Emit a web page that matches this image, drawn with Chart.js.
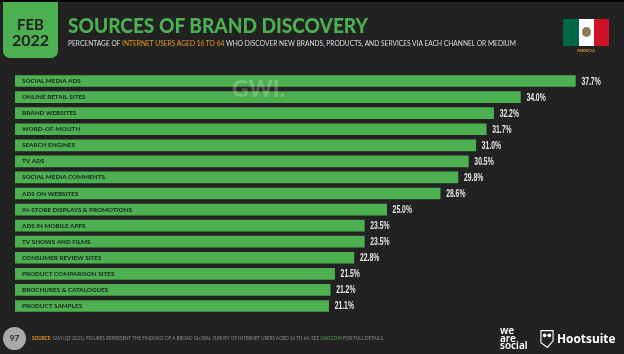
<!DOCTYPE html>
<html><head><meta charset="utf-8">
<script src="https://cdn.jsdelivr.net/npm/chart.js@4"></script>
<style>
html,body{margin:0;padding:0;background:#222223;width:624px;height:354px;overflow:hidden}
#wrap{position:relative;width:624px;height:354px;font-family:Lato,sans-serif}
#wrap div{position:absolute;white-space:nowrap}
canvas{position:absolute;left:0;top:0}
</style></head><body>
<div id="wrap">
<canvas id="c" width="624" height="354"></canvas>
<div style="left:0;top:0;width:624px;height:2px;background:#050505"></div>
<div style="left:3px;top:2px;width:55px;height:56px;background:#4caf50;border-radius:0 0 7px 7px"></div>
<div style="left:3px;top:16px;width:55px;text-align:center;font:700 15px/16px Lato;color:#222">FEB</div>
<div style="left:3px;top:31px;width:55px;text-align:center;font:700 16px/17px Lato;color:#222">2022</div>
<div style="left:68px;top:12px;font:900 21.5px/26px Lato;color:#4caf50;transform:scaleX(.887);transform-origin:left center">SOURCES OF BRAND DISCOVERY</div>
<div style="left:68px;top:38px;font:400 6.65px/10px Lato;color:#ddd">PERCENTAGE OF <span style="color:#e89a1c">INTERNET USERS AGED 16 TO 64</span> WHO DISCOVER NEW BRANDS, PRODUCTS, AND SERVICES VIA EACH CHANNEL OR MEDIUM</div>
<div style="left:563px;top:19px;width:16px;height:27px;background:#006847"></div>
<div style="left:579px;top:19px;width:15px;height:27px;background:#fff"></div>
<div style="left:594px;top:19px;width:15px;height:27px;background:#ce1126"></div>
<div style="left:582px;top:27px;width:9px;height:10px;border-radius:50%;background:#8d7a52"></div>
<div style="left:563px;top:48px;width:46px;text-align:center;font:700 4.5px/6px Lato;color:#e89a1c">MEXICO</div>
<div style="left:232px;top:77px;font:900 23px/22px Lato;color:rgba(255,255,255,.22)">GWI.</div>
<div style="left:3px;top:327px;width:23px;height:23px;border-radius:50%;background:#a9a9a9;text-align:center;font:700 8px/23px Lato;color:#222">97</div>
<div style="left:32px;top:335px;font:400 4.62px/7px Lato;color:#8a8a8a"><span style="color:#e89a1c;font-weight:700">SOURCE:</span> GWI (Q3 2021). FIGURES REPRESENT THE FINDINGS OF A BROAD GLOBAL SURVEY OF INTERNET USERS AGED 16 TO 64. SEE <span style="color:#4caf50">GWI.COM</span> FOR FULL DETAILS.</div>
<div style="left:500px;top:327px;font:600 10px/7.6px 'Noto Sans';color:#fff;white-space:pre-line">we
are
social</div>
<svg style="position:absolute;left:540px;top:329px" width="14" height="20" viewBox="0 0 15 20"><path d="M1 1H14V12L8 19L1 14Z" fill="none" stroke="#fff" stroke-width="1.2"/><circle cx="5" cy="6" r="2" fill="#fff"/><circle cx="10" cy="6" r="2" fill="#fff"/></svg>
<div style="left:557px;top:330px;font:700 11.9px/16px 'Open Sans';color:#fff">Hootsuite</div>
</div>
<script>
const categories = ["SOCIAL MEDIA ADS","ONLINE RETAIL SITES","BRAND WEBSITES","WORD-OF-MOUTH","SEARCH ENGINES","TV ADS","SOCIAL MEDIA COMMENTS","ADS ON WEBSITES","IN-STORE DISPLAYS & PROMOTIONS","ADS IN MOBILE APPS","TV SHOWS AND FILMS","CONSUMER REVIEW SITES","PRODUCT COMPARISON SITES","BROCHURES & CATALOGUES","PRODUCT SAMPLES"];
const values = [37.7,34.0,32.2,31.7,31.0,30.5,29.8,28.6,25.0,23.5,23.5,22.8,21.5,21.2,21.1];
const endLabels = {
  id:'endLabels',
  afterDatasetsDraw(chart){
    const {ctx,scales:{x,y}} = chart;
    ctx.fillStyle='#e6e6e6';
    ctx.textBaseline='middle';
    ctx.textAlign='left';
    ctx.font="700 11px 'Liberation Sans'";
    values.forEach((v,i)=>{
      ctx.save();
      ctx.translate(x.getPixelForValue(v)+6, y.getPixelForValue(i)+0.5);
      ctx.scale(0.62,1);
      ctx.fillText(v.toFixed(1)+'%',0,0);
      ctx.restore();
    });
  }
};
new Chart(document.getElementById('c'),{
  type:'bar',
  data:{labels:categories,datasets:[{data:values,backgroundColor:'#4caf50',barThickness:11,borderSkipped:false}]},
  options:{
    indexAxis:'y',responsive:false,animation:false,
    layout:{padding:{left:15,right:0,top:73,bottom:40}},
    plugins:{legend:{display:false},tooltip:{enabled:false}},
    scales:{
      x:{display:false,min:0,max:40.97},
      y:{
        position:'left',
        grid:{display:false},border:{display:false},
        afterFit(a){a.width=0;},
        ticks:{mirror:true,z:2,padding:7,color:'#1e2b1f',autoSkip:false,font:{family:'Lato',size:6.3,weight:'900'}}
      }
    }
  },
  plugins:[endLabels]
});
</script>
</body></html>
